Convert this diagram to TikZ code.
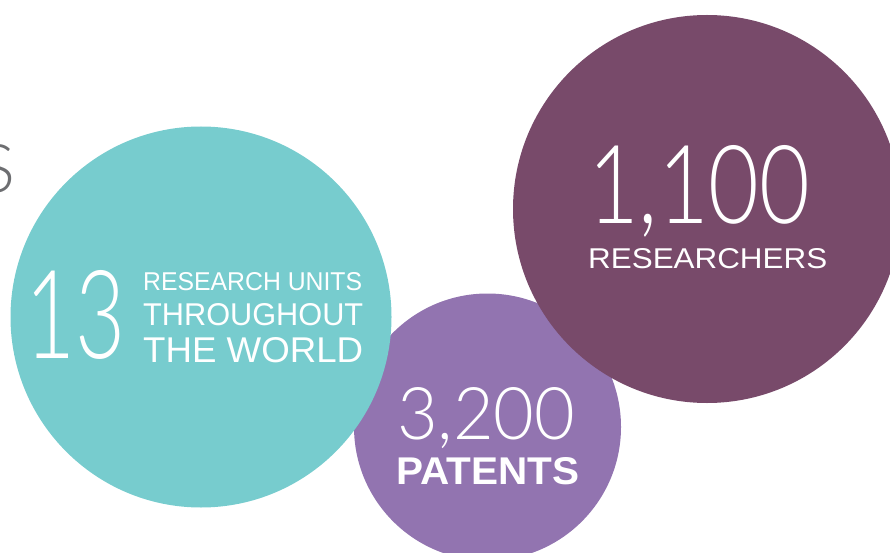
\documentclass[tikz,border=0pt]{standalone}
\usepackage{fontspec}
\setmainfont{Liberation Sans}
\newfontfamily\thinfont{Lato Light}
\usepackage{graphicx}
\usepackage{xcolor}
\definecolor{unitsteal}{HTML}{77CCCE}
\definecolor{patentviolet}{HTML}{9274B0}
\definecolor{staffplum}{HTML}{784A6A}
\definecolor{titlegray}{HTML}{6D6E71}

\begin{document}
\begin{tikzpicture}[x=1pt, y=-1pt,
    bubble/.style={circle, inner sep=0pt, draw=none},
    bignum/.style={anchor=base west, inner sep=0pt, text=white, font=\thinfont},
    caption/.style={anchor=base west, inner sep=0pt, text=white}]
    \useasboundingbox (0,0) rectangle (890,553);
    \clip (0,0) rectangle (890,553);
    % gray letter cut by the left edge
    \node[anchor=base east, inner sep=0pt, text=titlegray, font=\thinfont\fontsize{67}{67}\selectfont] (titletail) at (16,193) {S};
    % bubbles
    \node[bubble, fill=patentviolet, minimum size=267pt] (patentsbubble) at (487.5,427) {};
    \node[bubble, fill=unitsteal, minimum size=381pt] (unitsbubble) at (201,317) {};
    \node[bubble, fill=staffplum, minimum size=388pt] (staffbubble) at (707,209) {};
    % research units
    \node[bignum] (unitsnum) at (25,358) {\resizebox{100pt}{88pt}{13}};
    \node[caption] (unitsline1) at (143,290) {\resizebox{219pt}{18pt}{RESEARCH UNITS}};
    \node[caption] (unitsline2) at (143,325) {\resizebox{220pt}{22pt}{THROUGHOUT}};
    \node[caption] (unitsline3) at (143,362) {\resizebox{220pt}{25pt}{THE WORLD}};
    % patents
    \node[bignum] (patentsnum) at (397,439) {\resizebox{178pt}{52pt}{3,200}};
    \node[caption, font=\bfseries] (patentsline) at (396,484) {\resizebox{183pt}{27pt}{PATENTS}};
    % researchers
    \node[bignum] (staffnum) at (588,223) {\resizebox{222pt}{78pt}{1,100}};
    \node[caption] (staffline) at (588,268) {\resizebox{239pt}{20pt}{RESEARCHERS}};
\end{tikzpicture}
\end{document}
